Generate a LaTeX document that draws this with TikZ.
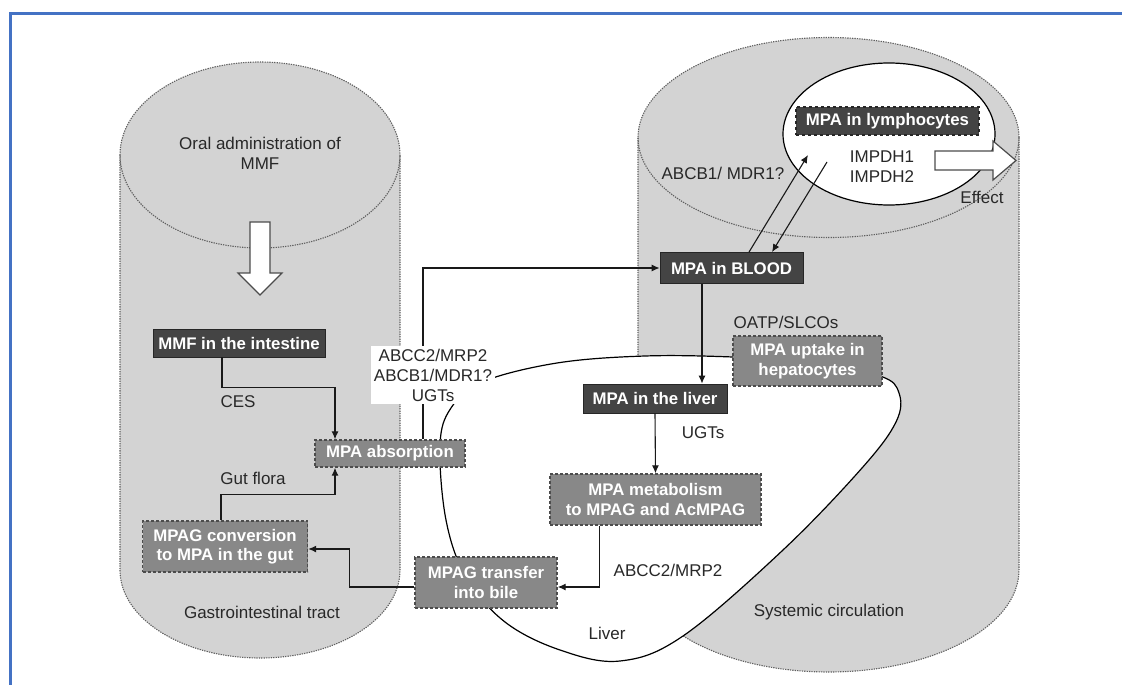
\documentclass[tikz,border=0pt]{standalone}
\usepackage{fontspec}
\setmainfont{Liberation Sans}
\usetikzlibrary{arrows.meta,shapes.geometric}
\definecolor{cylgray}{RGB}{211,211,211}
\definecolor{rimgray}{RGB}{95,95,95}
\definecolor{darkbox}{RGB}{68,68,68}
\definecolor{midbox}{RGB}{136,136,136}
\definecolor{framebl}{RGB}{68,114,196}
\definecolor{ink}{RGB}{40,40,40}

\begin{document}
\begin{tikzpicture}[x=1pt,y=-1pt,
  every node/.style={font=\fontsize{17}{20}\selectfont, text=ink},
  rim/.style={draw=rimgray, line width=1.1pt, dash pattern=on 1.3pt off 1.1pt},
  boxbase/.style={text=white, font=\bfseries\fontsize{16.8}{19.5}\selectfont,
    inner sep=0pt, align=center},
  darkstep/.style={boxbase, draw=black!85, line width=0.8pt, fill=darkbox},
  darkdash/.style={boxbase, draw=black!85, line width=1.3pt, dashed, fill=darkbox},
  midstep/.style={boxbase, draw=black!70, line width=1.4pt, dash pattern=on 3pt off 2pt, fill=midbox},
  conn/.style={draw=black!90, line width=1.1pt, -{Latex[length=8pt,width=7pt]}},
  blockarrow/.style={draw=black!70, fill=white, line width=1.2pt, line join=miter},
]
\useasboundingbox (0,0) rectangle (1122,685);

% frame
\draw[framebl, line width=3pt] (10,685) -- (10,14) -- (1122,14);

% gastrointestinal cylinder
\fill[cylgray] (120,155) -- (120,570) .. controls (120,618.6) and (182.7,658) .. (260,658)
  .. controls (337.3,658) and (400,618.6) .. (400,570) -- (400,155) -- cycle;
\fill[cylgray] (260,155) ellipse [x radius=140, y radius=93];
\draw[rim] (120,155) -- (120,570) .. controls (120,618.6) and (182.7,658) .. (260,658)
  .. controls (337.3,658) and (400,618.6) .. (400,570) -- (400,155);
\draw[rim] (260,155) ellipse [x radius=140, y radius=93];

% systemic circulation cylinder
\fill[cylgray] (638,137.5) -- (638,570) .. controls (638,626.3) and (723.3,672) .. (828.5,672)
  .. controls (933.7,672) and (1019,626.3) .. (1019,570) -- (1019,137.5) -- cycle;
\fill[cylgray] (828.5,137.5) ellipse [x radius=190.5, y radius=100];
\draw[rim] (638,137.5) -- (638,570) .. controls (638,626.3) and (723.3,672) .. (828.5,672)
  .. controls (933.7,672) and (1019,626.3) .. (1019,570) -- (1019,137.5);
\draw[rim] (828.5,137.5) ellipse [x radius=190.5, y radius=100];

% liver
\draw[black, line width=1.2pt, fill=white] plot[smooth cycle, tension=0.6] coordinates {
  (440,445) (451,408) (482,382) (557,363) (645,356) (733,357) (810,362) (880,376)
  (899,393) (896,422) (862,468) (783,550) (683,636) (620,661) (560,650) (505,622)
  (466,577) (446,520)};

% lymphocyte
\node[ellipse, draw=black, line width=1.2pt, fill=white, minimum width=212, minimum height=142,
  inner sep=0pt] (cell) at (889,134) {};
\coordinate (cellin) at (808,155);
\coordinate (cellout) at (827,162);

% block arrows
\draw[blockarrow] (250,222) -- (270,222) -- (270,273) -- (282,273) -- (260,295)
  -- (238,273) -- (250,273) -- cycle;
\draw[blockarrow] (935,151) -- (993,151) -- (993,141) -- (1016,160.5) -- (993,180)
  -- (993,170) -- (935,170) -- cycle;

% boxes
\node[darkstep, minimum width=172, minimum height=28] (mmf) at (239,343) {MMF in the intestine};
\node[midstep, minimum width=150, minimum height=27] (absorb) at (390,453.5) {MPA absorption};
\node[midstep, minimum width=165, minimum height=51] (conv) at (225,546.5) {MPAG conversion\\to MPA in the gut};
\node[midstep, minimum width=142, minimum height=51] (transfer) at (486,582.5) {MPAG transfer\\into bile};
\node[midstep, minimum width=211, minimum height=51] (metab) at (655.5,499.5) {MPA metabolism\\to MPAG and AcMPAG};
\node[darkstep, minimum width=144, minimum height=29] (liverbox) at (655,398.5) {MPA in the liver};
\node[midstep, minimum width=149, minimum height=50] (uptake) at (807.5,361) {MPA uptake in\\hepatocytes};
\node[darkstep, minimum width=143, minimum height=31] (blood) at (731.5,268) {MPA in BLOOD};
\node[darkdash, minimum width=183, minimum height=28] (lymph) at (887.5,121) {MPA in lymphocytes};

% connectors
\draw[conn] ([xshift=-17pt]mmf.south) -- ++(0,30) -| ([xshift=-55pt]absorb.north);
\draw[conn] ([xshift=-4pt]conv.north) -- ++(0,-26) -| ([xshift=-55pt]absorb.south);
\draw[conn] ([yshift=-4.5pt]transfer.west) -- ++(-65,0) |- ([yshift=-2.5pt]conv.east);
\draw[conn] ([xshift=33pt]absorb.north) |- (blood.west);
\draw[conn] ([xshift=-29.5pt]blood.south) -- ([xshift=-29.5pt]blood.south |- liverbox.north);
\draw[conn] (liverbox.south) -- (metab.north);
\draw[conn] ([xshift=-56pt]metab.south) |- ([yshift=-4.5pt]transfer.east);
\draw[conn] ([xshift=17.5pt]blood.north) -- (cellin);
\draw[conn] (cellout) -- ([xshift=40.5pt]blood.north);

% labels
\node[align=center] (oral) at (260,153) {Oral administration of\\MMF};
\node (ces) at (238,402) {CES};
\node (gut) at (253,478) {Gut flora};
\node (gitract) at (262,612) {Gastrointestinal tract};
\node[fill=white, align=center, inner sep=3pt] (transp) at (433,375) {ABCC2/MRP2\\ABCB1/MDR1?\\UGTs};
\node (mdr) at (723,173) {ABCB1/ MDR1?};
\node[align=center] (impdh) at (882,167) {IMPDH1\\IMPDH2};
\node (effect) at (982,197) {Effect};
\node (oatp) at (786,322) {OATP/SLCOs};
\node (ugts) at (703,433) {UGTs};
\node (mrp) at (668,570) {ABCC2/MRP2};
\node (liverlbl) at (607,633) {Liver};
\node (syst) at (829,612) {Systemic circulation};
\end{tikzpicture}
\end{document}
